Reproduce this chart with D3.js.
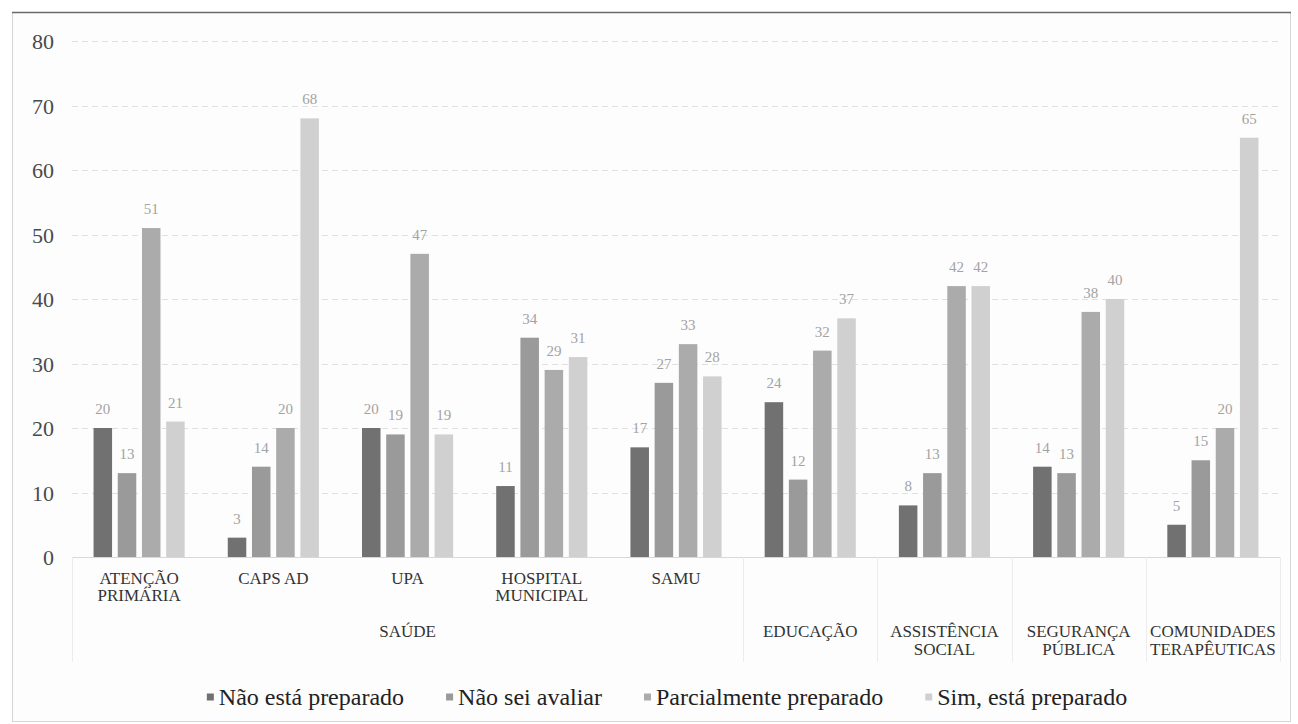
<!DOCTYPE html>
<html>
<head>
<meta charset="utf-8">
<script src="https://cdn.jsdelivr.net/npm/d3@7"></script>
<style>
  html, body { margin: 0; padding: 0; background: #ffffff; }
  svg { display: block; }
  svg text { font-family: "Liberation Serif", "Tinos", "Times New Roman", "Noto Serif", "DejaVu Serif", serif; }
</style>
</head>
<body>
<svg id="chart" width="1298" height="724"></svg>
<script>
// ---- data ----
const categories = ["ATENÇÃO PRIMÁRIA", "CAPS AD", "UPA", "HOSPITAL MUNICIPAL", "SAMU",
                    "EDUCAÇÃO", "ASSISTÊNCIA SOCIAL", "SEGURANÇA PÚBLICA", "COMUNIDADES TERAPÊUTICAS"];
// level-1 labels (sub-categories of SAÚDE); empty for stand-alone sectors
const subLabels = [["ATENÇÃO", "PRIMÁRIA"], ["CAPS AD"], ["UPA"], ["HOSPITAL", "MUNICIPAL"], ["SAMU"], [], [], [], []];
// level-2 groups: label lines and how many categories they span
const groupLabels = [["SAÚDE"], ["EDUCAÇÃO"], ["ASSISTÊNCIA", "SOCIAL"], ["SEGURANÇA", "PÚBLICA"], ["COMUNIDADES", "TERAPÊUTICAS"]];
const groupSpans = [5, 1, 1, 1, 1];
const seriesNames = ["Não está preparado", "Não sei avaliar", "Parcialmente preparado", "Sim, está preparado"];
const naoEstaPreparado   = [20, 3, 20, 11, 17, 24, 8, 14, 5];
const naoSeiAvaliar      = [13, 14, 19, 34, 27, 12, 13, 13, 15];
const parcialmente       = [51, 20, 47, 29, 33, 32, 42, 38, 20];
const simEstaPreparado   = [21, 68, 19, 31, 28, 37, 42, 40, 65];
const seriesValues = [naoEstaPreparado, naoSeiAvaliar, parcialmente, simEstaPreparado];
const yTicks = [0, 10, 20, 30, 40, 50, 60, 70, 80];
const seriesColors = ["#717171", "#9a9a9a", "#ababab", "#d0d0d0"];

const FONT = "'Liberation Serif', 'Tinos', 'Times New Roman', 'Noto Serif', 'DejaVu Serif', serif";

// ---- layout ----
const svg = d3.select("#chart");
const plotLeft = 72, plotRight = 1280, plotTop = 41, plotBottom = 557;

// chart border
svg.append("rect").attr("x", 12.5).attr("y", 12.5).attr("width", 1278).attr("height", 709)
  .attr("fill", "#fdfdfd").attr("stroke", "#d6d6d6").attr("stroke-width", 1);
svg.append("line").attr("x1", 12).attr("x2", 1291).attr("y1", 12.5).attr("y2", 12.5)
  .attr("stroke", "#6a6a6a").attr("stroke-width", 1.5);

const x0 = d3.scaleBand().domain(categories).range([plotLeft, plotRight]).paddingInner(0).paddingOuter(0);
const x1 = d3.scaleBand().domain(d3.range(seriesNames.length)).range([0, x0.bandwidth()])
  .paddingInner(0.235).paddingOuter(0.89);
const y = d3.scaleLinear().domain([0, 80]).range([plotBottom, plotTop]);

// gridlines
svg.append("g").selectAll("line").data(yTicks.filter(t => t > 0)).join("line")
  .attr("x1", plotLeft).attr("x2", plotRight)
  .attr("y1", d => Math.round(y(d)) + 0.5).attr("y2", d => Math.round(y(d)) + 0.5)
  .attr("stroke", "#e0e0e0").attr("stroke-width", 1).attr("stroke-dasharray", "6,4");

// y axis labels
const yAxis = d3.axisLeft(y).tickValues(yTicks).tickSize(0).tickPadding(0).tickFormat(d3.format("d"));
const yg = svg.append("g").attr("transform", `translate(${54},0)`).call(yAxis);
yg.attr("font-family", FONT);
yg.select(".domain").remove();
yg.selectAll("text").attr("font-size", 22).attr("fill", "#4a4a4a")
  .attr("font-family", FONT).attr("dy", "0.35em");

// bars
const rows = [];
categories.forEach((c, i) => seriesValues.forEach((vals, s) => rows.push({ c, s, v: vals[i] })));
svg.append("g").selectAll("rect").data(rows).join("rect")
  .attr("x", d => x0(d.c) + x1(d.s))
  .attr("width", x1.bandwidth())
  .attr("y", d => y(d.v))
  .attr("height", d => y(0) - y(d.v))
  .attr("fill", d => seriesColors[d.s]);

// data labels
svg.append("g").attr("font-family", FONT).selectAll("text").data(rows).join("text")
  .attr("x", d => x0(d.c) + x1(d.s) + x1.bandwidth() / 2)
  .attr("y", d => y(d.v) - 14)
  .attr("text-anchor", "middle")
  .attr("font-size", 15)
  .attr("font-family", FONT)
  .attr("fill", "#a3a3a3")
  .text(d => d.v);

// baseline
svg.append("line").attr("x1", plotLeft).attr("x2", plotRight).attr("y1", plotBottom + 0.5).attr("y2", plotBottom + 0.5)
  .attr("stroke", "#d8d8d8").attr("stroke-width", 1);

// multi-level category axis
const catG = svg.append("g").attr("fill", "#333").attr("font-size", 17).attr("text-anchor", "middle")
  .attr("font-family", FONT);
categories.forEach((c, i) => {
  const cx = x0(c) + x0.bandwidth() / 2;
  subLabels[i].forEach((line, k) => {
    catG.append("text").attr("x", cx).attr("y", 578 + k * 17).attr("dy", "0.35em")
      .attr("font-family", FONT).text(line);
  });
});
// group labels and separators
let idx = 0;
const sepX = [plotLeft];
groupLabels.forEach((lines, g) => {
  const startCat = categories[idx];
  const endCat = categories[idx + groupSpans[g] - 1];
  const gx0 = x0(startCat), gx1 = x0(endCat) + x0.bandwidth();
  lines.forEach((line, k) => {
    catG.append("text").attr("x", (gx0 + gx1) / 2).attr("y", 631 + k * 18).attr("dy", "0.35em")
      .attr("font-family", FONT).text(line);
  });
  sepX.push(gx1);
  idx += groupSpans[g];
});
svg.append("g").selectAll("line").data(sepX).join("line")
  .attr("x1", d => Math.round(d) + 0.5).attr("x2", d => Math.round(d) + 0.5)
  .attr("y1", plotBottom).attr("y2", 662)
  .attr("stroke", "#ececec").attr("stroke-width", 1);

// legend
const legend = svg.append("g").attr("font-family", FONT);
const items = legend.selectAll("g").data(seriesNames).join("g");
items.append("rect").attr("width", 7).attr("height", 7).attr("y", -3.5)
  .attr("fill", (d, i) => seriesColors[i]);
items.append("text").attr("x", 12).attr("dy", "0.35em").attr("font-size", 24).attr("fill", "#222")
  .attr("font-family", FONT).text(d => d);
const widths = [];
items.each(function () { widths.push(this.getBBox().width); });
const gap = 42;
const total = d3.sum(widths) + gap * (widths.length - 1);
let lx = 667 - total / 2;
items.attr("transform", (d, i) => { const t = `translate(${lx},697)`; lx += widths[i] + gap; return t; });
</script>
</body>
</html>
